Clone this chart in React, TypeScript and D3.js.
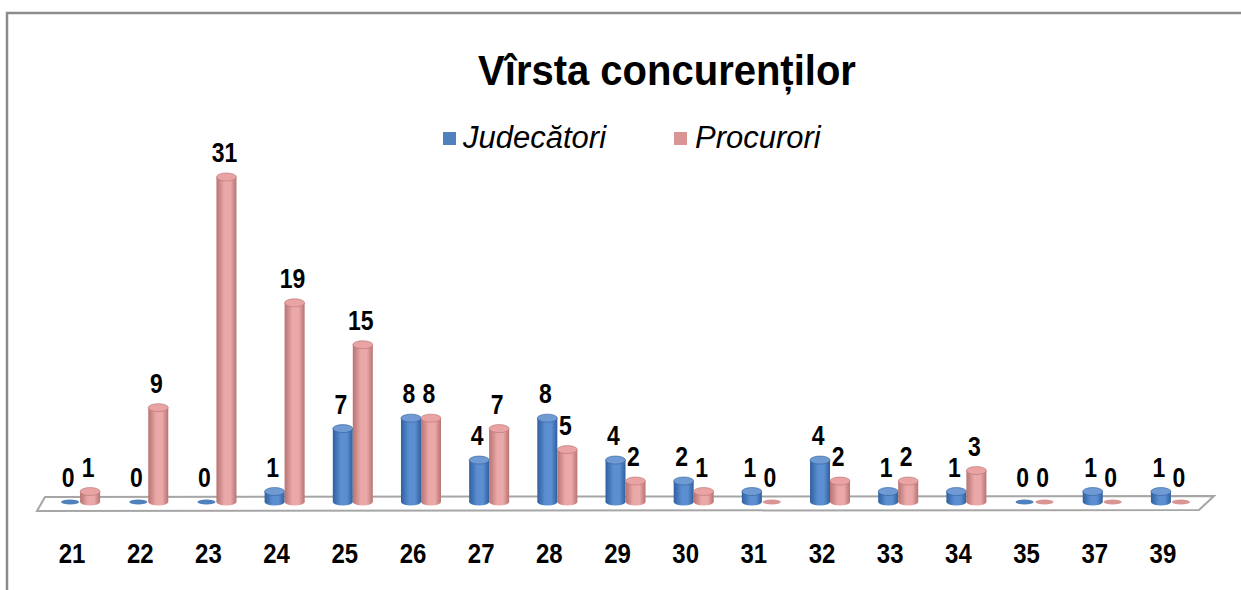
import React from 'react';
import * as d3 from 'd3';

const ages = ['21', '22', '23', '24', '25', '26', '27', '28', '29', '30', '31', '32', '33', '34', '35', '37', '39'];
const judecatori = [0, 0, 0, 1, 7, 8, 4, 8, 4, 2, 1, 4, 1, 1, 0, 1, 1];
const procurori = [1, 9, 31, 19, 15, 8, 7, 5, 2, 1, 0, 2, 2, 3, 0, 0, 0];
const seriesNames = ['Judecători', 'Procurori'];

const W = 1241;
const H = 590;
const FONT = '"Liberation Sans", Arial, sans-serif';
const STRETCH = 1.18; // reference text is drawn a bit taller than wide

const series = [
  { name: seriesNames[0], values: judecatori, id: 'blue', dark: '#2f5f9e', mid: '#5b8fd2', top: '#6f9ad3', sw: '#4f81bd' },
  { name: seriesNames[1], values: procurori, id: 'pink', dark: '#b87272', mid: '#eaa9a8', top: '#e8a3a2', sw: '#d99594' },
];

const App: React.FC = () => {
  const base = 502; // floor line where cylinders sit
  const depthShift = 8; // 3D offset of the bars relative to the labels

  const x = d3.scaleBand<string>().domain(ages).range([38, 1197]).padding(0);
  const inner = d3.scaleBand<string>().domain(seriesNames).range([0, 40]).padding(0);
  const y = d3.scaleLinear().domain([0, 31]).range([base, base - 325]);

  const rx = inner.bandwidth() / 2;
  const barCx = (a: string, name: string) =>
    (x(a) ?? 0) + x.bandwidth() / 2 - inner.bandwidth() + depthShift + (inner(name) ?? 0) + rx;

  return (
    <svg width={W} height={H} style={{ position: 'absolute', left: 0, top: 0, background: '#fff' }}>
      <defs>
        {series.map(s => (
          <linearGradient key={s.id} id={`grad-${s.id}`} x1="0" x2="1" y1="0" y2="0">
            <stop offset="0%" stopColor={s.dark} />
            <stop offset="40%" stopColor={s.mid} />
            <stop offset="70%" stopColor={s.mid} />
            <stop offset="100%" stopColor={s.dark} />
          </linearGradient>
        ))}
      </defs>

      {/* chart border */}
      <path d={`M7,${H} L7,13 L${W},13`} fill="none" stroke="#8c8c8c" strokeWidth={2.5} />

      {/* title */}
      <text transform="translate(667,85) scale(1,1.05)" textAnchor="middle" fontFamily={FONT} fontWeight="bold" fontSize={40} fill="#000">
        Vîrsta concurenților
      </text>

      {/* legend */}
      <rect x={443} y={132} width={13} height={13} fill={series[0].sw} />
      <text x={463} y={148} fontFamily={FONT} fontStyle="italic" fontSize={31} fill="#000">{seriesNames[0]}</text>
      <rect x={674} y={132} width={13} height={13} fill={series[1].sw} />
      <text x={695} y={148} fontFamily={FONT} fontStyle="italic" fontSize={31} fill="#000">{seriesNames[1]}</text>

      {/* floor */}
      <polygon points={`37,511 45,497 1214,496 1199,510`} fill="#fff" stroke="#a6a6a6" strokeWidth={2} />

      {/* bars */}
      {ages.map((a, i) => (
        <g key={a}>
          {series.map(s => {
            const v = s.values[i];
            const cx = barCx(a, s.name);
            const top = y(v);
            if (v === 0) {
              return <ellipse key={s.id} cx={cx} cy={base} rx={rx - 1} ry={2.5} fill={s.sw} />;
            }
            return (
              <g key={s.id}>
                <rect x={cx - rx} y={top} width={rx * 2} height={base - top} fill={`url(#grad-${s.id})`} />
                <ellipse cx={cx} cy={base} rx={rx} ry={3.5} fill={`url(#grad-${s.id})`} />
                <ellipse cx={cx} cy={top} rx={rx} ry={4} fill={s.top} stroke={s.dark} strokeWidth={0.6} />
              </g>
            );
          })}
          {series.map(s => {
            const v = s.values[i];
            const cx = barCx(a, s.name) - 2;
            return (
              <text key={`l-${s.id}`} transform={`translate(${cx},${y(v) - 15}) scale(1,${STRETCH})`} textAnchor="middle"
                fontFamily={FONT} fontWeight="bold" fontSize={23} fill="#000">
                {v}
              </text>
            );
          })}
          <text transform={`translate(${(x(a) ?? 0) + x.bandwidth() / 2},563) scale(1,${STRETCH})`} textAnchor="middle"
            fontFamily={FONT} fontWeight="bold" fontSize={24} fill="#000">
            {a}
          </text>
        </g>
      ))}
    </svg>
  );
};

export default App;
